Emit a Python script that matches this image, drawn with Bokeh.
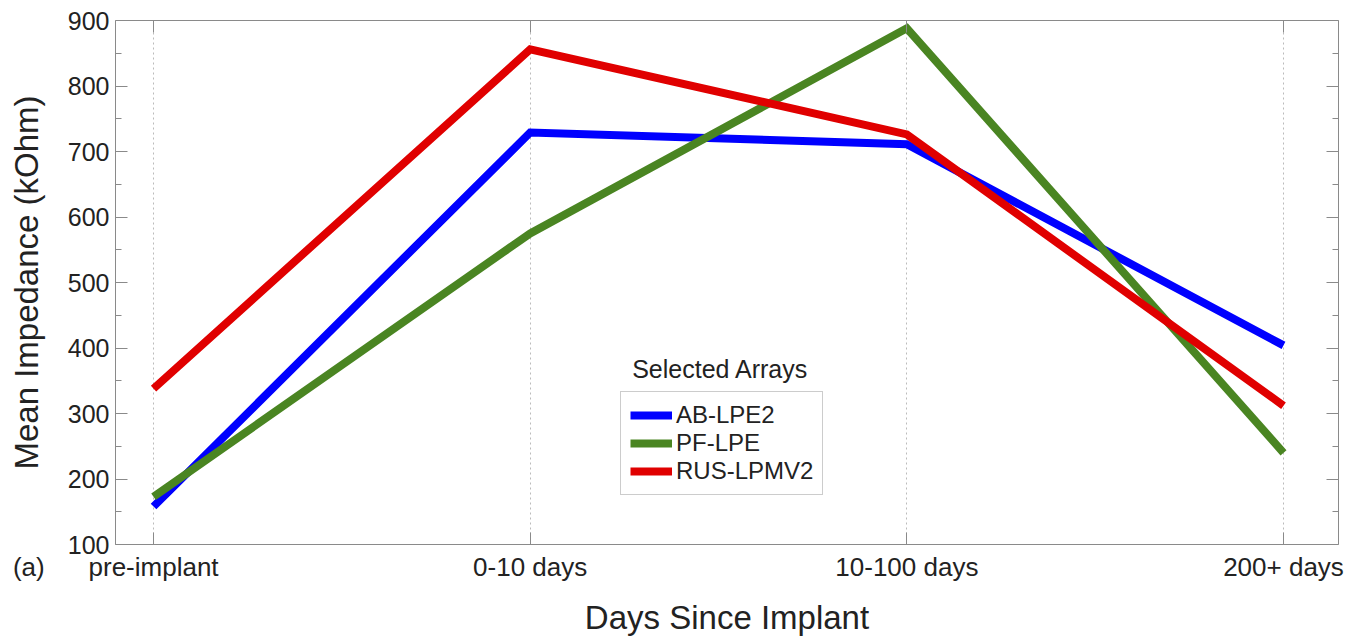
from bokeh.plotting import figure
from bokeh.models import (LinearAxis, FixedTicker, Range1d, Legend, LegendItem, Label)
from bokeh.embed import file_html
from bokeh.resources import INLINE

categories = ["pre-implant", "0-10 days", "10-100 days", "200+ days"]
ab_lpe2 = [158, 729, 711, 404]
pf_lpe = [173, 575, 888, 240]
rus_lpmv2 = [338, 856, 726, 312]
series_names = ["AB-LPE2", "PF-LPE", "RUS-LPMV2"]
y_ticks = [100, 200, 300, 400, 500, 600, 700, 800, 900]
y_minor = [150, 250, 350, 450, 550, 650, 750, 850]
panel_tag = "(a)"

FONT = "Liberation Sans"
AX = "#8a8a8a"
TXT = "#222222"

X_START, X_END = 0.899, 4.146
xs = list(range(1, len(categories) + 1))

p = figure(width=1363, height=639, output_backend="svg", toolbar_location=None,
           x_range=Range1d(X_START, X_END), y_range=Range1d(100, 900),
           min_border_left=115, min_border_right=25, min_border_top=20, min_border_bottom=95)
p.outline_line_color = None
p.background_fill_color = "white"
p.border_fill_color = "white"

# grids
p.ygrid.grid_line_color = None
p.xgrid.ticker = FixedTicker(ticks=xs)
p.xgrid.grid_line_color = "#bbbbbb"
p.xgrid.grid_line_dash = "2 3"
p.xgrid.grid_line_width = 1

# bottom axis; the panel tag rides on a tick at the left frame edge,
# padded on the right with no-break spaces so that it shows left of the frame
xa = p.xaxis[0]
xa.ticker = FixedTicker(ticks=[X_START] + xs)
overrides = {i: c for i, c in zip(xs, categories)}
overrides[X_START] = panel_tag + "\u00a0" * 24
xa.major_label_overrides = overrides
xa.axis_label = "Days Since Implant"
xa.axis_label_text_font = FONT
xa.axis_label_text_font_size = "33px"
xa.axis_label_text_font_style = "normal"
xa.axis_label_text_color = TXT
xa.axis_label_standoff = 14
xa.major_label_text_font = FONT
xa.major_label_text_font_size = "26px"
xa.major_label_text_color = TXT
xa.major_label_standoff = 7
xa.axis_line_color = AX
xa.major_tick_line_color = AX
xa.major_tick_in = 12
xa.major_tick_out = 0
xa.minor_tick_line_color = None

# left axis
ya = p.yaxis[0]
ya.ticker = FixedTicker(ticks=y_ticks, minor_ticks=y_minor)
ya.axis_label = "Mean Impedance (kOhm)"
ya.axis_label_text_font = FONT
ya.axis_label_text_font_size = "33px"
ya.axis_label_text_font_style = "normal"
ya.axis_label_text_color = TXT
ya.axis_label_standoff = 20
ya.major_label_text_font = FONT
ya.major_label_text_font_size = "25px"
ya.major_label_text_color = TXT
ya.major_label_standoff = 6
ya.axis_line_color = AX
ya.major_tick_line_color = AX
ya.minor_tick_line_color = AX
ya.major_tick_in = 12
ya.major_tick_out = 0
ya.minor_tick_in = 6
ya.minor_tick_out = 0

# right axis (mirror, ticks only)
ra = LinearAxis(ticker=FixedTicker(ticks=y_ticks, minor_ticks=y_minor))
ra.major_label_text_color = None
ra.major_label_text_font_size = "10px"
ra.major_label_standoff = 0
ra.axis_line_color = AX
ra.major_tick_line_color = AX
ra.minor_tick_line_color = AX
ra.major_tick_in = 12
ra.major_tick_out = 0
ra.minor_tick_in = 6
ra.minor_tick_out = 0
p.add_layout(ra, "right")

# top axis (mirror, ticks only)
ta = LinearAxis(ticker=FixedTicker(ticks=xs))
ta.major_label_text_color = None
ta.major_label_text_font_size = "10px"
ta.major_label_standoff = 0
ta.axis_line_color = AX
ta.major_tick_line_color = AX
ta.minor_tick_line_color = None
ta.major_tick_in = 12
ta.major_tick_out = 0
p.add_layout(ta, "above")

colors = ["#0000ff", "#4a8522", "#e00000"]
renderers = []
for vals, col in zip([ab_lpe2, pf_lpe, rus_lpmv2], colors):
    r = p.line(xs, vals, line_color=col, line_width=8, line_join="miter")
    renderers.append(r)

legend = Legend(items=[LegendItem(label=n, renderers=[r]) for n, r in zip(series_names, renderers)],
                location=(505, 49))
legend.label_text_font = FONT
legend.label_text_font_size = "24px"
legend.label_text_color = TXT
legend.glyph_width = 42
legend.glyph_height = 22
legend.label_height = 22
legend.label_standoff = 4
legend.spacing = 0
legend.padding = 9
legend.margin = 0
legend.border_line_color = "#999999"
legend.border_line_width = 1
legend.background_fill_color = "white"
legend.background_fill_alpha = 1
p.add_layout(legend, "center")

p.add_layout(Label(x=2.505, y=368, text="Selected Arrays", text_font=FONT,
                   text_font_size="25px", text_color=TXT,
                   text_align="center", text_baseline="middle"))

open("out.html", "w").write(file_html(p, INLINE))
